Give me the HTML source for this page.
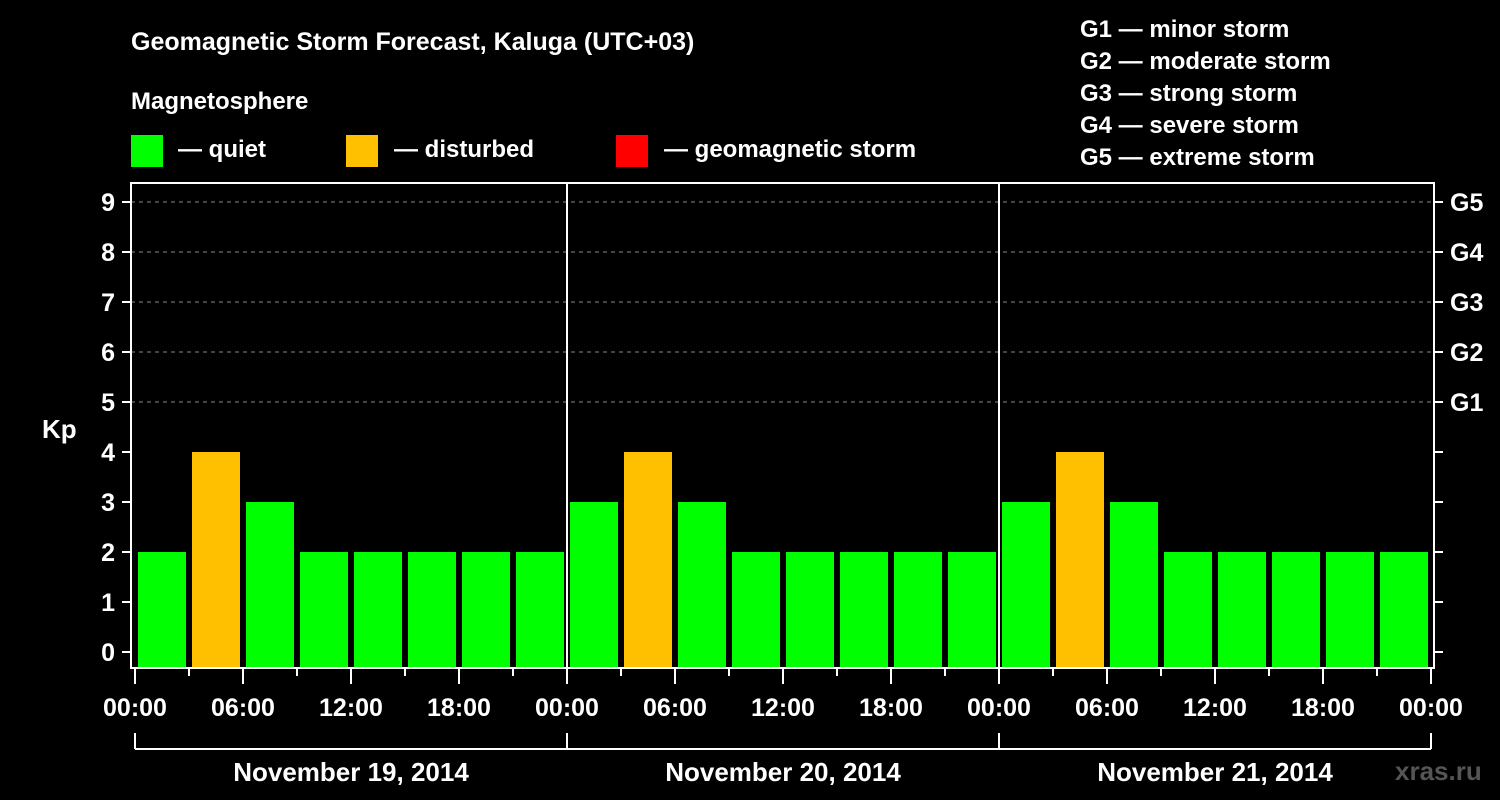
<!DOCTYPE html>
<html><head><meta charset="utf-8"><style>
html,body{margin:0;padding:0;background:#000;width:1500px;height:800px;overflow:hidden}
svg{display:block}
text{font-family:"Liberation Sans",sans-serif;font-weight:bold;fill:#fff}
</style></head><body>
<svg id="c" width="1500" height="800">
<text x="131" y="50" font-size="25">Geomagnetic Storm Forecast, Kaluga (UTC+03)</text>
<text x="131" y="109" font-size="24">Magnetosphere</text>
<g><rect x="131" y="135" width="32" height="32" fill="#00ff00"/><text x="178" y="157" font-size="24">— quiet</text></g>
<g><rect x="346" y="135" width="32" height="32" fill="#ffc000"/><text x="394" y="157" font-size="24">— disturbed</text></g>
<g><rect x="616" y="135" width="32" height="32" fill="#ff0000"/><text x="664" y="157" font-size="24">— geomagnetic storm</text></g>
<g font-size="24">
<text x="1080" y="37">G1 — minor storm</text>
<text x="1080" y="69">G2 — moderate storm</text>
<text x="1080" y="101">G3 — strong storm</text>
<text x="1080" y="133">G4 — severe storm</text>
<text x="1080" y="165">G5 — extreme storm</text>
</g>
<text x="42" y="438" font-size="26">Kp</text>
<g id="grid"></g><g id="bars"></g><g id="axes"></g>
<text x="1395" y="780" font-size="26" fill="#444" style="fill:#555">xras.ru</text>
</svg>
<script>
const kpValues=[2,4,3,2,2,2,2,2, 3,4,3,2,2,2,2,2, 3,4,3,2,2,2,2,2];
const dayLabels=["November 19, 2014","November 20, 2014","November 21, 2014"];
const timeLabels=["00:00","06:00","12:00","18:00"];
const gLabels=["G1","G2","G3","G4","G5"];
const yTicks=[0,1,2,3,4,5,6,7,8,9];
const NS="http://www.w3.org/2000/svg";
const x0=135,slot=54,plotTop=183,plotBottom=668,plotLeft=131,plotRight=1434;
const y=v=>652-v*50;
const x=i=>x0+i*slot;
function mk(t,a,p){const e=document.createElementNS(NS,t);for(const k in a)e.setAttribute(k,a[k]);p.appendChild(e);return e;}
const grid=document.getElementById('grid'),bars=document.getElementById('bars'),axes=document.getElementById('axes');
yTicks.forEach(v=>{
 if(v>=5){const l=mk('line',{x1:plotLeft,x2:plotRight,y1:y(v),y2:y(v),stroke:'#888','stroke-width':1,'stroke-dasharray':'4,4'},grid);
 
 }
 const t=mk('line',{x1:122,x2:plotLeft,y1:y(v),y2:y(v),stroke:'#fff','stroke-width':2},axes);
 
 
 const r=mk('line',{x1:plotRight,x2:1443,y1:y(v),y2:y(v),stroke:'#fff','stroke-width':2},axes);
 
 
 const lb=mk('text',{x:115,y:y(v)+9,'font-size':25,'text-anchor':'end'},axes);lb.textContent=v;
 
 
});
gLabels.forEach((g,i)=>{const t=mk('text',{x:1450,y:y(5+i)+9,'font-size':25},axes);t.textContent=g;
 
 });
kpValues.forEach((v,i)=>{
 const b=mk('rect',{x:x(i)+3,y:y(v),width:48,height:plotBottom-y(v),fill:v>=5?'#ff0000':(v>=4?'#ffc000':'#00ff00')},bars);
 
 
});
mk('rect',{x:plotLeft,y:plotTop,width:plotRight-plotLeft,height:plotBottom-plotTop,fill:'none',stroke:'#fff','stroke-width':2},axes);
for(let d=1;d<dayLabels.length;d++){const l=mk('line',{x1:x(d*8),x2:x(d*8),y1:plotTop,y2:plotBottom,stroke:'#fff','stroke-width':2},axes);
 
 }
for(let i=0;i<=kpValues.length;i++){
 const t=mk('line',{x1:x(i),x2:x(i),y1:plotBottom,y2:i%2?676:684,stroke:'#fff','stroke-width':2},axes);
 
 
 if(i%2===0){const lb=mk('text',{x:x(i),y:716,'font-size':25,'text-anchor':'middle'},axes);lb.textContent=timeLabels[(i/2)%4];
 
 }
}
mk('line',{x1:x(0),x2:x(24),y1:749,y2:749,stroke:'#fff','stroke-width':2},axes);
dayLabels.forEach((d,i)=>{
 const v=mk('line',{x1:x(i*8),x2:x(i*8),y1:733,y2:749,stroke:'#fff','stroke-width':2},axes);
 
 
 const t=mk('text',{x:(x(i*8)+x(i*8+8))/2,y:781,'font-size':26,'text-anchor':'middle'},axes);t.textContent=d;
 
 
});
mk('line',{x1:x(24),x2:x(24),y1:733,y2:749,stroke:'#fff','stroke-width':2},axes);
</script>
</body></html>
